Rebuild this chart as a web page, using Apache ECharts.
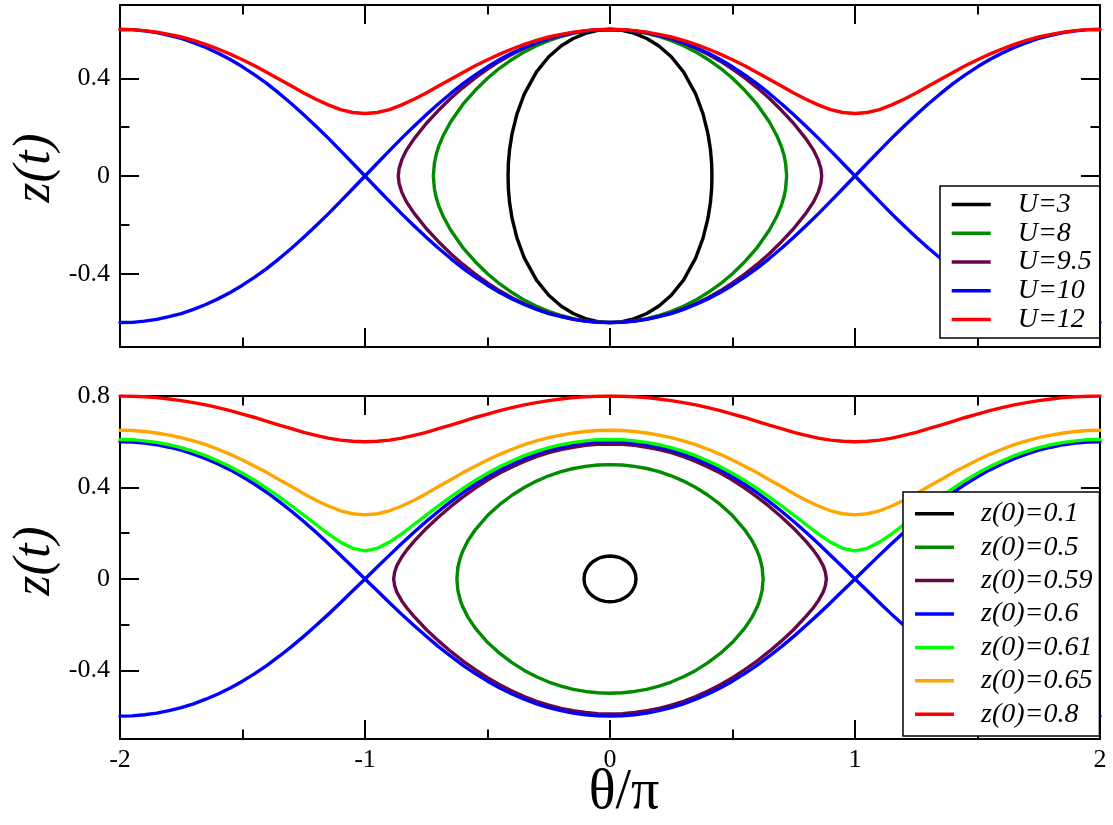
<!DOCTYPE html>
<html>
<head>
<meta charset="utf-8">
<script src="https://cdn.jsdelivr.net/npm/echarts@6/dist/echarts.min.js"></script>
<style>
  html, body { margin: 0; padding: 0; background: #fff; }
  #chart { width: 1113px; height: 825px; }
</style>
</head>
<body>
<div id="chart"></div>
<script>
// Phase-space trajectories z(t) versus θ/π.
// Upper panel: z(0)=0.6 for several U; lower panel: U=10 for several z(0).

// ---- axis ticks ----
const xMajorTicks = [-2, -1, 0, 1, 2];
const xMinorTicks = [-1.5, -0.5, 0.5, 1.5];
const topMajorTicks = [-0.4, 0, 0.4];
const topMinorTicks = [-0.6, -0.2, 0.2, 0.6];
const botMajorTicks = [-0.4, 0, 0.4, 0.8];
const botMinorTicks = [-0.6, -0.2, 0.2, 0.6];

// ---- legend names ----
const topNames = ['U=3', 'U=8', 'U=9.5', 'U=10', 'U=12'];
const botNames = ['z(0)=0.1', 'z(0)=0.5', 'z(0)=0.59', 'z(0)=0.6', 'z(0)=0.61', 'z(0)=0.65', 'z(0)=0.8'];
const topColors = ['#000000', '#008b00', '#670748', '#0000ff', '#ff0000'];
const botColors = ['#000000', '#008b00', '#670748', '#0000ff', '#00ff00', '#ffa500', '#ff0000'];

// ---- θ/π sampling for the curves spanning the full window ----
const thetaGrid = [-2,-1.95,-1.9,-1.85,-1.8,-1.75,-1.7,-1.65,-1.6,-1.55,-1.5,-1.45,-1.4,-1.35,-1.3,-1.25,-1.2,-1.15,-1.1,-1.05,
  -1,-0.95,-0.9,-0.85,-0.8,-0.75,-0.7,-0.65,-0.6,-0.55,-0.5,-0.45,-0.4,-0.35,-0.3,-0.25,-0.2,-0.15,-0.1,-0.05,
  0,0.05,0.1,0.15,0.2,0.25,0.3,0.35,0.4,0.45,0.5,0.55,0.6,0.65,0.7,0.75,0.8,0.85,0.9,0.95,
  1,1.05,1.1,1.15,1.2,1.25,1.3,1.35,1.4,1.45,1.5,1.55,1.6,1.65,1.7,1.75,1.8,1.85,1.9,1.95,2];

// separatrix (U=10, z(0)=0.6), branch passing through (0, 0.6)
const sepUpper = [-0.6,-0.599,-0.594,-0.587,-0.576,-0.563,-0.546,-0.526,-0.503,-0.477,-0.447,-0.414,-0.378,-0.338,-0.296,-0.251,-0.204,-0.155,-0.104,-0.052,0,
  0.052,0.104,0.155,0.204,0.251,0.296,0.338,0.378,0.414,0.447,0.477,0.503,0.526,0.546,0.563,0.576,0.587,0.594,0.599,0.6,
  0.599,0.594,0.587,0.576,0.563,0.546,0.526,0.503,0.477,0.447,0.414,0.378,0.338,0.296,0.251,0.204,0.155,0.104,0.052,0,
  -0.052,-0.104,-0.155,-0.204,-0.251,-0.296,-0.338,-0.378,-0.414,-0.447,-0.477,-0.503,-0.526,-0.546,-0.563,-0.576,-0.587,-0.594,-0.599,-0.6];
// separatrix, branch passing through (0, -0.6)
const sepLower = [0.6,0.599,0.594,0.587,0.576,0.563,0.546,0.526,0.503,0.477,0.447,0.414,0.378,0.338,0.296,0.251,0.204,0.155,0.104,0.052,0,
  -0.052,-0.104,-0.155,-0.204,-0.251,-0.296,-0.338,-0.378,-0.414,-0.447,-0.477,-0.503,-0.526,-0.546,-0.563,-0.576,-0.587,-0.594,-0.599,-0.6,
  -0.599,-0.594,-0.587,-0.576,-0.563,-0.546,-0.526,-0.503,-0.477,-0.447,-0.414,-0.378,-0.338,-0.296,-0.251,-0.204,-0.155,-0.104,-0.052,0,
  0.052,0.104,0.155,0.204,0.251,0.296,0.338,0.378,0.414,0.447,0.477,0.503,0.526,0.546,0.563,0.576,0.587,0.594,0.599,0.6];
// running orbit U=12
const runU12 = [0.6,0.599,0.595,0.589,0.58,0.569,0.555,0.539,0.52,0.499,0.476,0.451,0.424,0.396,0.368,0.34,0.314,0.291,0.272,0.26,0.256,
  0.26,0.272,0.291,0.314,0.34,0.368,0.396,0.424,0.451,0.476,0.499,0.52,0.539,0.555,0.569,0.58,0.589,0.595,0.599,0.6,
  0.599,0.595,0.589,0.58,0.569,0.555,0.539,0.52,0.499,0.476,0.451,0.424,0.396,0.368,0.34,0.314,0.291,0.272,0.26,0.256,
  0.26,0.272,0.291,0.314,0.34,0.368,0.396,0.424,0.451,0.476,0.499,0.52,0.539,0.555,0.569,0.58,0.589,0.595,0.599,0.6];
// running orbits U=10
const runZ061 = [0.61,0.609,0.604,0.597,0.587,0.574,0.558,0.539,0.516,0.491,0.462,0.431,0.396,0.359,0.32,0.279,0.238,0.197,0.161,0.134,0.123,
  0.134,0.161,0.197,0.238,0.279,0.32,0.359,0.396,0.431,0.462,0.491,0.516,0.539,0.558,0.574,0.587,0.597,0.604,0.609,0.61,
  0.609,0.604,0.597,0.587,0.574,0.558,0.539,0.516,0.491,0.462,0.431,0.396,0.359,0.32,0.279,0.238,0.197,0.161,0.134,0.123,
  0.134,0.161,0.197,0.238,0.279,0.32,0.359,0.396,0.431,0.462,0.491,0.516,0.539,0.558,0.574,0.587,0.597,0.604,0.609,0.61];
const runZ065 = [0.65,0.649,0.645,0.638,0.629,0.618,0.604,0.587,0.567,0.545,0.52,0.493,0.465,0.434,0.404,0.373,0.344,0.319,0.298,0.285,0.28,
  0.285,0.298,0.319,0.344,0.373,0.404,0.434,0.465,0.493,0.52,0.545,0.567,0.587,0.604,0.618,0.629,0.638,0.645,0.649,0.65,
  0.649,0.645,0.638,0.629,0.618,0.604,0.587,0.567,0.545,0.52,0.493,0.465,0.434,0.404,0.373,0.344,0.319,0.298,0.285,0.28,
  0.285,0.298,0.319,0.344,0.373,0.404,0.434,0.465,0.493,0.52,0.545,0.567,0.587,0.604,0.618,0.629,0.638,0.645,0.649,0.65];
const runZ08 = [0.8,0.799,0.797,0.793,0.787,0.78,0.771,0.761,0.749,0.736,0.721,0.706,0.689,0.673,0.657,0.641,0.628,0.616,0.607,0.602,0.6,
  0.602,0.607,0.616,0.628,0.641,0.657,0.673,0.689,0.706,0.721,0.736,0.749,0.761,0.771,0.78,0.787,0.793,0.797,0.799,0.8,
  0.799,0.797,0.793,0.787,0.78,0.771,0.761,0.749,0.736,0.721,0.706,0.689,0.673,0.657,0.641,0.628,0.616,0.607,0.602,0.6,
  0.602,0.607,0.616,0.628,0.641,0.657,0.673,0.689,0.706,0.721,0.736,0.749,0.761,0.771,0.78,0.787,0.793,0.797,0.799,0.8];

// ---- closed (oscillating) orbits as [θ/π, z] points around the loop ----
const loopU3 = [[0,0.6],[0.05,0.596],[0.1,0.584],[0.15,0.563],[0.2,0.532],[0.25,0.488],[0.3,0.426],[0.35,0.335],[0.38,0.253],[0.4,0.172],[0.41,0.108],[0.415,0.05],[0.416,0],
  [0.415,-0.05],[0.41,-0.108],[0.4,-0.172],[0.38,-0.253],[0.35,-0.335],[0.3,-0.426],[0.25,-0.488],[0.2,-0.532],[0.15,-0.563],[0.1,-0.584],[0.05,-0.596],[0,-0.6],
  [-0.05,-0.596],[-0.1,-0.584],[-0.15,-0.563],[-0.2,-0.532],[-0.25,-0.488],[-0.3,-0.426],[-0.35,-0.335],[-0.38,-0.253],[-0.4,-0.172],[-0.41,-0.108],[-0.415,-0.05],[-0.416,0],
  [-0.415,0.05],[-0.41,0.108],[-0.4,0.172],[-0.38,0.253],[-0.35,0.335],[-0.3,0.426],[-0.25,0.488],[-0.2,0.532],[-0.15,0.563],[-0.1,0.584],[-0.05,0.596],[0,0.6]];
const loopU8 = [[0,0.6],[0.05,0.598],[0.1,0.593],[0.15,0.584],[0.2,0.571],[0.25,0.554],[0.3,0.533],[0.35,0.508],[0.4,0.477],[0.45,0.442],[0.5,0.4],[0.55,0.351],[0.6,0.294],[0.65,0.222],[0.68,0.167],[0.7,0.119],[0.71,0.086],[0.717,0.05],[0.721,0],
  [0.717,-0.05],[0.71,-0.086],[0.7,-0.119],[0.68,-0.167],[0.65,-0.222],[0.6,-0.294],[0.55,-0.351],[0.5,-0.4],[0.45,-0.442],[0.4,-0.477],[0.35,-0.508],[0.3,-0.533],[0.25,-0.554],[0.2,-0.571],[0.15,-0.584],[0.1,-0.593],[0.05,-0.598],[0,-0.6],
  [-0.05,-0.598],[-0.1,-0.593],[-0.15,-0.584],[-0.2,-0.571],[-0.25,-0.554],[-0.3,-0.533],[-0.35,-0.508],[-0.4,-0.477],[-0.45,-0.442],[-0.5,-0.4],[-0.55,-0.351],[-0.6,-0.294],[-0.65,-0.222],[-0.68,-0.167],[-0.7,-0.119],[-0.71,-0.086],[-0.717,-0.05],[-0.721,0],
  [-0.717,0.05],[-0.71,0.086],[-0.7,0.119],[-0.68,0.167],[-0.65,0.222],[-0.6,0.294],[-0.55,0.351],[-0.5,0.4],[-0.45,0.442],[-0.4,0.477],[-0.35,0.508],[-0.3,0.533],[-0.25,0.554],[-0.2,0.571],[-0.15,0.584],[-0.1,0.593],[-0.05,0.598],[0,0.6]];
const loopU95 = [[0,0.6],[0.05,0.598],[0.1,0.594],[0.15,0.586],[0.2,0.575],[0.25,0.561],[0.3,0.544],[0.35,0.523],[0.4,0.498],[0.45,0.47],[0.5,0.438],[0.55,0.402],[0.6,0.362],[0.65,0.318],[0.7,0.269],[0.75,0.215],[0.8,0.152],[0.83,0.107],[0.85,0.066],[0.861,0.03],[0.864,0],
  [0.861,-0.03],[0.85,-0.066],[0.83,-0.107],[0.8,-0.152],[0.75,-0.215],[0.7,-0.269],[0.65,-0.318],[0.6,-0.362],[0.55,-0.402],[0.5,-0.438],[0.45,-0.47],[0.4,-0.498],[0.35,-0.523],[0.3,-0.544],[0.25,-0.561],[0.2,-0.575],[0.15,-0.586],[0.1,-0.594],[0.05,-0.598],[0,-0.6],
  [-0.05,-0.598],[-0.1,-0.594],[-0.15,-0.586],[-0.2,-0.575],[-0.25,-0.561],[-0.3,-0.544],[-0.35,-0.523],[-0.4,-0.498],[-0.45,-0.47],[-0.5,-0.438],[-0.55,-0.402],[-0.6,-0.362],[-0.65,-0.318],[-0.7,-0.269],[-0.75,-0.215],[-0.8,-0.152],[-0.83,-0.107],[-0.85,-0.066],[-0.861,-0.03],[-0.864,0],
  [-0.861,0.03],[-0.85,0.066],[-0.83,0.107],[-0.8,0.152],[-0.75,0.215],[-0.7,0.269],[-0.65,0.318],[-0.6,0.362],[-0.55,0.402],[-0.5,0.438],[-0.45,0.47],[-0.4,0.498],[-0.35,0.523],[-0.3,0.544],[-0.25,0.561],[-0.2,0.575],[-0.15,0.586],[-0.1,0.594],[-0.05,0.598],[0,0.6]];
const loopZ01 = [[0,0.1],[0.02,0.098],[0.04,0.093],[0.05,0.088],[0.06,0.082],[0.07,0.075],[0.08,0.066],[0.09,0.053],[0.1,0.033],[0.104,0.02],[0.106,0],
  [0.104,-0.02],[0.1,-0.033],[0.09,-0.053],[0.08,-0.066],[0.07,-0.075],[0.06,-0.082],[0.05,-0.088],[0.04,-0.093],[0.02,-0.098],[0,-0.1],
  [-0.02,-0.098],[-0.04,-0.093],[-0.05,-0.088],[-0.06,-0.082],[-0.07,-0.075],[-0.08,-0.066],[-0.09,-0.053],[-0.1,-0.033],[-0.104,-0.02],[-0.106,0],
  [-0.104,0.02],[-0.1,0.033],[-0.09,0.053],[-0.08,0.066],[-0.07,0.075],[-0.06,0.082],[-0.05,0.088],[-0.04,0.093],[-0.02,0.098],[0,0.1]];
const loopZ05 = [[0,0.5],[0.05,0.498],[0.1,0.492],[0.15,0.483],[0.2,0.469],[0.25,0.451],[0.3,0.428],[0.35,0.4],[0.4,0.366],[0.45,0.326],[0.5,0.277],[0.55,0.215],[0.58,0.167],[0.6,0.124],[0.61,0.097],[0.621,0.05],[0.625,0],
  [0.621,-0.05],[0.61,-0.097],[0.6,-0.124],[0.58,-0.167],[0.55,-0.215],[0.5,-0.277],[0.45,-0.326],[0.4,-0.366],[0.35,-0.4],[0.3,-0.428],[0.25,-0.451],[0.2,-0.469],[0.15,-0.483],[0.1,-0.492],[0.05,-0.498],[0,-0.5],
  [-0.05,-0.498],[-0.1,-0.492],[-0.15,-0.483],[-0.2,-0.469],[-0.25,-0.451],[-0.3,-0.428],[-0.35,-0.4],[-0.4,-0.366],[-0.45,-0.326],[-0.5,-0.277],[-0.55,-0.215],[-0.58,-0.167],[-0.6,-0.124],[-0.61,-0.097],[-0.621,-0.05],[-0.625,0],
  [-0.621,0.05],[-0.61,0.097],[-0.6,0.124],[-0.58,0.167],[-0.55,0.215],[-0.5,0.277],[-0.45,0.326],[-0.4,0.366],[-0.35,0.4],[-0.3,0.428],[-0.25,0.451],[-0.2,0.469],[-0.15,0.483],[-0.1,0.492],[-0.05,0.498],[0,0.5]];
const loopZ059 = [[0,0.59],[0.05,0.589],[0.1,0.584],[0.15,0.576],[0.2,0.566],[0.25,0.552],[0.3,0.535],[0.35,0.514],[0.4,0.49],[0.45,0.463],[0.5,0.432],[0.55,0.397],[0.6,0.359],[0.65,0.317],[0.7,0.271],[0.75,0.221],[0.8,0.164],[0.83,0.126],[0.85,0.096],[0.87,0.058],[0.879,0.03],[0.883,0],
  [0.879,-0.03],[0.87,-0.058],[0.85,-0.096],[0.83,-0.126],[0.8,-0.164],[0.75,-0.221],[0.7,-0.271],[0.65,-0.317],[0.6,-0.359],[0.55,-0.397],[0.5,-0.432],[0.45,-0.463],[0.4,-0.49],[0.35,-0.514],[0.3,-0.535],[0.25,-0.552],[0.2,-0.566],[0.15,-0.576],[0.1,-0.584],[0.05,-0.589],[0,-0.59],
  [-0.05,-0.589],[-0.1,-0.584],[-0.15,-0.576],[-0.2,-0.566],[-0.25,-0.552],[-0.3,-0.535],[-0.35,-0.514],[-0.4,-0.49],[-0.45,-0.463],[-0.5,-0.432],[-0.55,-0.397],[-0.6,-0.359],[-0.65,-0.317],[-0.7,-0.271],[-0.75,-0.221],[-0.8,-0.164],[-0.83,-0.126],[-0.85,-0.096],[-0.87,-0.058],[-0.879,-0.03],[-0.883,0],
  [-0.879,0.03],[-0.87,0.058],[-0.85,0.096],[-0.83,0.126],[-0.8,0.164],[-0.75,0.221],[-0.7,0.271],[-0.65,0.317],[-0.6,0.359],[-0.55,0.397],[-0.5,0.432],[-0.45,0.463],[-0.4,0.49],[-0.35,0.514],[-0.3,0.535],[-0.25,0.552],[-0.2,0.566],[-0.15,0.576],[-0.1,0.584],[-0.05,0.589],[0,0.59]];

// ---- building the chart ----
const SERIF = 'Liberation Serif';
const INK = '#000';

function onGrid(values) {
  return thetaGrid.map((t, i) => [t, values[i]]);
}

function axis(kind, gridIndex, position, min, max, ticks, len, showLine, showLabels) {
  return {
    type: 'value', gridIndex, position, min, max,
    axisLine: { show: showLine, onZero: false, lineStyle: { color: INK, width: 2 } },
    axisTick: { show: true, inside: true, length: len, customValues: ticks, lineStyle: { color: INK, width: 2 } },
    axisLabel: showLabels
      ? { show: true, customValues: ticks, margin: kind === 'x' ? 8 : 10, color: INK, fontFamily: SERIF, fontSize: 26 }
      : { show: false },
    splitLine: { show: false },
    minorTick: { show: false }
  };
}

const xAxes = [];
const yAxes = [];
[[0, false, [-0.7, 0.7], topMajorTicks, topMinorTicks],
 [1, true, [-0.7, 0.8], botMajorTicks, botMinorTicks]].forEach(([g, xLabels, yr, yMaj, yMin]) => {
  xAxes.push(axis('x', g, 'bottom', -2, 2, xMajorTicks, 19, true, xLabels));
  xAxes.push(axis('x', g, 'bottom', -2, 2, xMinorTicks, 9.5, false, false));
  xAxes.push(axis('x', g, 'top', -2, 2, xMajorTicks, 19, true, false));
  xAxes.push(axis('x', g, 'top', -2, 2, xMinorTicks, 9.5, false, false));
  yAxes.push(axis('y', g, 'left', yr[0], yr[1], yMaj, 19, true, true));
  yAxes.push(axis('y', g, 'left', yr[0], yr[1], yMin, 9.5, false, false));
  yAxes.push(axis('y', g, 'right', yr[0], yr[1], yMaj, 19, true, false));
  yAxes.push(axis('y', g, 'right', yr[0], yr[1], yMin, 9.5, false, false));
});

function curve(name, color, data, panel) {
  return {
    type: 'line', name, data,
    xAxisIndex: panel * 4, yAxisIndex: panel * 4,
    showSymbol: false, symbol: 'none', silent: true,
    lineStyle: { color, width: 3.4, join: 'round', cap: 'round' },
    itemStyle: { color },
    emphasis: { disabled: true }
  };
}

const series = [
  curve(topNames[0], topColors[0], loopU3, 0),
  curve(topNames[1], topColors[1], loopU8, 0),
  curve(topNames[2], topColors[2], loopU95, 0),
  curve(topNames[3], topColors[3], onGrid(sepUpper), 0),
  curve(topNames[3], topColors[3], onGrid(sepLower), 0),
  curve(topNames[4], topColors[4], onGrid(runU12), 0),

  curve(botNames[0], botColors[0], loopZ01, 1),
  curve(botNames[1], botColors[1], loopZ05, 1),
  curve(botNames[2], botColors[2], loopZ059, 1),
  curve(botNames[3], botColors[3], onGrid(sepUpper), 1),
  curve(botNames[3], botColors[3], onGrid(sepLower), 1),
  curve(botNames[4], botColors[4], onGrid(runZ061), 1),
  curve(botNames[5], botColors[5], onGrid(runZ065), 1),
  curve(botNames[6], botColors[6], onGrid(runZ08), 1)
];

function legendBox(names, left, top, gap, padding) {
  return {
    data: names, orient: 'vertical', left, top, padding,
    icon: 'rect', itemWidth: 39, itemHeight: 3.5, itemGap: gap,
    borderColor: INK, borderWidth: 1.5, backgroundColor: '#fff',
    selectedMode: false,
    textStyle: { color: INK, fontFamily: SERIF, fontStyle: 'italic', fontSize: 28, lineHeight: 28, padding: [0, 0, 0, 22] }
  };
}

const chart = echarts.init(document.getElementById('chart'), null, { renderer: 'canvas' });
chart.setOption({
  animation: false,
  backgroundColor: '#fff',
  grid: [
    { left: 120, width: 980, top: 5, height: 342 },
    { left: 120, width: 980, top: 396, height: 343 }
  ],
  xAxis: xAxes,
  yAxis: yAxes,
  legend: [
    legendBox(topNames, 940, 186, 0.8, [4.4, 8, 4.4, 11.7]),
    legendBox(botNames, 903, 492, 5.4, [7.8, 7, 7.8, 12])
  ],
  graphic: [
    { type: 'text', x: 35, y: 168, rotation: Math.PI / 2, z: 10,
      style: { text: 'z(t)', fontFamily: SERIF, fontStyle: 'italic', fontSize: 52, fill: INK, align: 'center', verticalAlign: 'middle' } },
    { type: 'text', x: 35, y: 561, rotation: Math.PI / 2, z: 10,
      style: { text: 'z(t)', fontFamily: SERIF, fontStyle: 'italic', fontSize: 52, fill: INK, align: 'center', verticalAlign: 'middle' } },
    { type: 'text', x: 624, y: 793, z: 10,
      style: { text: 'θ/π', fontFamily: SERIF, fontSize: 56, fill: INK, align: 'center', verticalAlign: 'middle' } }
  ],
  series
});
</script>
</body>
</html>
